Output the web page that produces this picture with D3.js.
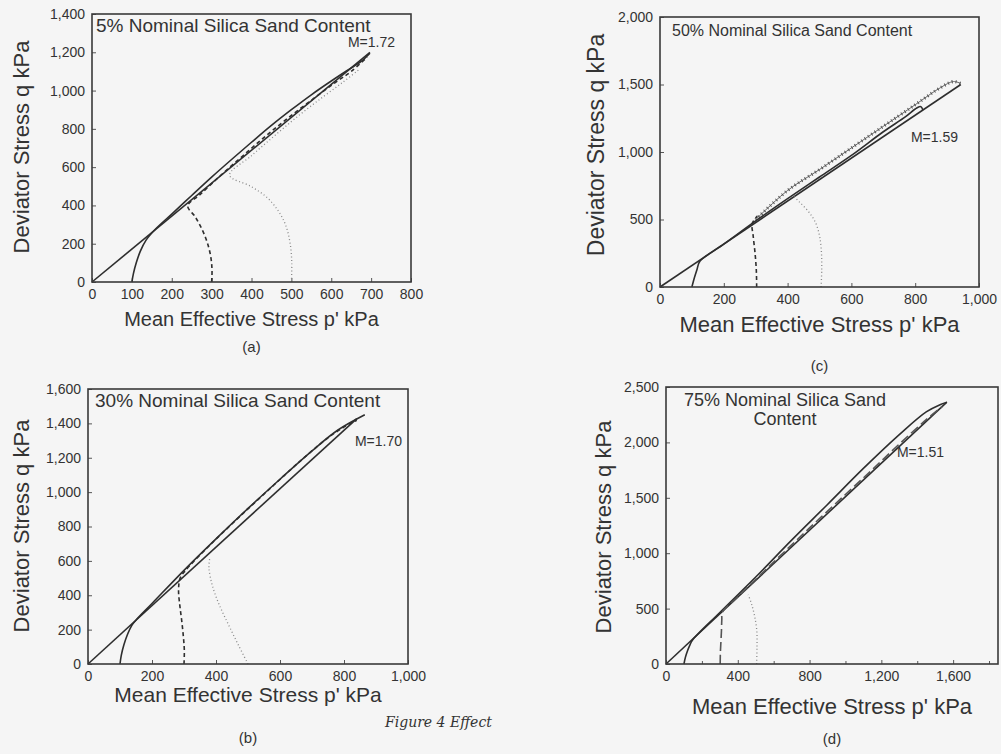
<!DOCTYPE html>
<html>
<head>
<meta charset="utf-8">
<script src="https://cdn.jsdelivr.net/npm/d3@7"></script>
<style>
  body { margin: 0; background: #f5f5f5; }
  text { font-family: "Liberation Sans", Arial, sans-serif; fill: #333; }
</style>
</head>
<body>
<script>
// ---- data (p' kPa, q kPa) ----

// (a) 5% silica sand
let aCsl = [[0, 0], [697, 1199]]
let aPath100 = [[100, 0], [104, 45], [111, 100], [121, 160], [136, 220], [157, 272], [200, 355], [250, 452], [300, 548], [350, 640], [400, 730], [450, 818], [500, 900], [550, 978], [600, 1050], [640, 1105], [675, 1152], [697, 1195]]
let aPath300 = [[300, 0], [301, 60], [298, 130], [290, 200], [277, 270], [259, 340], [240, 398], [270, 455], [320, 552], [380, 662], [440, 770], [500, 870], [560, 965], [610, 1042], [650, 1100], [690, 1175]]
let aPath500 = [[500, 0], [501, 100], [497, 200], [486, 295], [466, 375], [437, 445], [398, 500], [345, 558], [400, 660], [460, 768], [520, 872], [580, 968], [630, 1045], [670, 1110]]
let aTicksX = [0, 100, 200, 300, 400, 500, 600, 700, 800]
let aTicksY = [0, 200, 400, 600, 800, 1000, 1200, 1400]

// (b) 30% silica sand
let bCsl = [[0, 0], [840, 1428]]
let bPath100 = [[100, 0], [104, 50], [112, 110], [123, 170], [137, 225], [152, 260], [200, 352], [300, 545], [400, 728], [500, 905], [600, 1075], [700, 1240], [780, 1360], [865, 1450]]
let bPath300 = [[300, 0], [301, 80], [298, 160], [293, 250], [287, 340], [283, 430], [288, 500], [305, 545], [380, 690], [480, 868], [580, 1040], [680, 1208], [760, 1330], [820, 1400], [840, 1418]]
let bPath500 = [[500, 0], [470, 110], [440, 225], [410, 345], [388, 460], [378, 560], [380, 610]]
let bTicksX = [0, 200, 400, 600, 800, 1000]
let bTicksY = [0, 200, 400, 600, 800, 1000, 1200, 1400, 1600]

// (c) 50% silica sand
let cCsl = [[0, 0], [943, 1500]]
let cPath100 = [[100, 0], [108, 70], [116, 130], [125, 190], [200, 318], [300, 490], [400, 655], [500, 815], [600, 975], [700, 1150], [770, 1262], [805, 1326], [818, 1336], [824, 1312]]
let cPath300 = [[303, 0], [302, 120], [298, 250], [292, 380], [289, 470], [305, 525]]
let cPath500 = [[505, 0], [507, 130], [506, 260], [500, 380], [487, 480], [465, 560], [437, 630], [415, 680]]
let cUpper = [[300, 500], [400, 715], [500, 870], [600, 1030], [700, 1190], [800, 1350], [880, 1478], [920, 1522], [942, 1508]]
let cTicksX = [0, 200, 400, 600, 800, 1000]
let cTicksY = [0, 500, 1000, 1500, 2000]

// (d) 75% silica sand
let dCsl = [[0, 0], [1565, 2363]]
let dPath100 = [[100, 0], [108, 60], [120, 120], [133, 170], [147, 215], [300, 465], [500, 785], [700, 1118], [900, 1440], [1100, 1765], [1300, 2070], [1450, 2275], [1530, 2343], [1565, 2363]]
let dPath300 = [[302, 0], [303, 100], [306, 200], [309, 300], [311, 400], [315, 470], [400, 605], [600, 920], [800, 1228], [1000, 1530], [1150, 1755], [1300, 1985], [1450, 2205], [1540, 2325]]
let dPath500 = [[505, 0], [507, 150], [506, 300], [494, 430], [477, 540], [458, 625]]
let dTicksX = [0, 400, 800, 1200, 1600]
let dMinorX = [200, 600, 1000, 1400, 1800]
let dTicksY = [0, 500, 1000, 1500, 2000, 2500]

let 
  width = 1001,
  height = 754;

let svg = d3.select('body')
            .append('svg')
            .attr('width', width)
            .attr('height', height)

let fmt = d3.format(',')

// line looks
let styles = {
  solid:  {stroke: '#2e2e2e', width: 1.6, dash: null},
  dashed: {stroke: '#2e2e2e', width: 1.6, dash: '4,3'},
  dotted: {stroke: '#8a8a8a', width: 1.3, dash: '1,2.5'},
  longdash: {stroke: '#555', width: 1.6, dash: '9,4'}
}

let panels = [
  {left: 92, right: 411, top: 14, bottom: 282, xDomain: [0, 800], yDomain: [0, 1400],
   xTicks: aTicksX, yTicks: aTicksY, minorX: [],
   lines: [[aCsl, 'solid'], [aPath100, 'solid'], [aPath300, 'dashed'], [aPath500, 'dotted']],
   title: ['5% Nominal Silica Sand Content'], titleX: 96, titleY: 32, titleSize: 19, titleAnchor: 'start', titleGap: 0,
   m: 'M=1.72', mX: 395, mY: 47,
   xTitleY: 326, xTitleSize: 20, yTitleX: 29, yTitleSize: 22, yTitleCy: 147,
   cap: '(a)', capY: 352},
  {left: 88, right: 408, top: 389, bottom: 664, xDomain: [0, 1000], yDomain: [0, 1600],
   xTicks: bTicksX, yTicks: bTicksY, minorX: [],
   lines: [[bCsl, 'solid'], [bPath100, 'solid'], [bPath300, 'dashed'], [bPath500, 'dotted']],
   title: ['30% Nominal Silica Sand Content'], titleX: 95, titleY: 407, titleSize: 19, titleAnchor: 'start', titleGap: 0,
   m: 'M=1.70', mX: 402, mY: 446,
   xTitleY: 702, xTitleSize: 21, yTitleX: 29, yTitleSize: 22, yTitleCy: 526,
   cap: '(b)', capY: 743},
  {left: 660, right: 979, top: 17, bottom: 287, xDomain: [0, 1000], yDomain: [0, 2000],
   xTicks: cTicksX, yTicks: cTicksY, minorX: [],
   lines: [[cCsl, 'solid'], [cPath100, 'solid'], [cPath300, 'dashed'], [cPath500, 'dotted']],
   hatched: cUpper,
   title: ['50% Nominal Silica Sand Content'], titleX: 672, titleY: 36, titleSize: 16, titleAnchor: 'start', titleGap: 0,
   m: 'M=1.59', mX: 958, mY: 142,
   xTitleY: 332, xTitleSize: 22, yTitleX: 604, yTitleSize: 23, yTitleCy: 145,
   cap: '(c)', capY: 371},
  {left: 666, right: 998, top: 387, bottom: 664, xDomain: [0, 1850], yDomain: [0, 2500],
   xTicks: dTicksX, yTicks: dTicksY, minorX: dMinorX,
   lines: [[dCsl, 'solid'], [dPath100, 'solid'], [dPath300, 'longdash'], [dPath500, 'dotted']],
   title: ['75% Nominal Silica Sand', 'Content'], titleX: 785, titleY: 406, titleSize: 18, titleAnchor: 'middle', titleGap: 19,
   m: 'M=1.51', mX: 944, mY: 457,
   xTitleY: 714, xTitleSize: 22, yTitleX: 611, yTitleSize: 22, yTitleCy: 527,
   cap: '(d)', capY: 744}
]

panels.forEach(p => {
  let g = svg.append('g')

  let xScale = d3.scaleLinear()
              .domain(p.xDomain)
              .range([p.left, p.right])
  let yScale = d3.scaleLinear()
              .domain(p.yDomain)
              .range([p.bottom, p.top])

  // axes with small inward ticks
  let xAxis = g.append('g')
              .attr('transform', `translate(0, ${p.bottom})`)
              .call(d3.axisBottom(xScale).tickValues(p.xTicks).tickFormat(fmt)
                    .tickSizeInner(-4).tickSizeOuter(0).tickPadding(7))
  let yAxis = g.append('g')
              .attr('transform', `translate(${p.left}, 0)`)
              .call(d3.axisLeft(yScale).tickValues(p.yTicks).tickFormat(fmt)
                    .tickSizeInner(-4).tickSizeOuter(0).tickPadding(7))
  if (p.minorX.length) {
    g.append('g')
      .attr('transform', `translate(0, ${p.bottom})`)
      .call(d3.axisBottom(xScale).tickValues(p.minorX).tickFormat('').tickSizeInner(-3).tickSizeOuter(0))
  }
  g.selectAll('.domain').remove()
  g.selectAll('.tick line').attr('stroke', '#555')
  g.selectAll('.tick text')
    .style('font-size', '14px')
    .style('font-family', '"Liberation Sans", Arial, sans-serif')
    .attr('fill', '#3a3a3a')

  // stress paths
  let line = d3.line()
              .x(d => xScale(d[0]))
              .y(d => yScale(d[1]))
              .curve(d3.curveCatmullRom.alpha(0.5))

  if (p.hatched) {
    g.append('path').attr('d', line(p.hatched)).attr('fill', 'none')
      .attr('stroke', '#666').attr('stroke-width', 1)
    g.append('path').attr('d', line(p.hatched)).attr('fill', 'none')
      .attr('stroke', '#555').attr('stroke-width', 3.2).attr('stroke-dasharray', '1,3')
  }

  p.lines.forEach(([pts, kind]) => {
    let s = styles[kind]
    g.append('path')
      .attr('d', line(pts))
      .attr('fill', 'none')
      .attr('stroke', s.stroke)
      .attr('stroke-width', s.width)
      .attr('stroke-dasharray', s.dash)
      .attr('stroke-linejoin', 'round')
  })

  // frame
  g.append('rect')
    .attr('x', p.left).attr('y', p.top)
    .attr('width', p.right - p.left).attr('height', p.bottom - p.top)
    .attr('fill', 'none').attr('stroke', '#3a3a3a').attr('stroke-width', 1.6)

  // texts
  p.title.forEach((t, i) => {
    g.append('text')
      .attr('x', p.titleX)
      .attr('y', p.titleY + i * p.titleGap)
      .text(t)
      .style('font-size', p.titleSize + 'px')
      .style('text-anchor', p.titleAnchor)
  })
  g.append('text')
    .attr('x', p.mX).attr('y', p.mY)
    .text(p.m)
    .style('font-size', '14px')
    .style('text-anchor', 'end')

  let cx = (p.left + p.right) / 2
  g.append('text')
    .attr('x', cx).attr('y', p.xTitleY)
    .text("Mean Effective Stress p' kPa")
    .style('font-size', p.xTitleSize + 'px')
    .style('text-anchor', 'middle')
  g.append('text')
    .attr('x', -p.yTitleCy).attr('y', p.yTitleX)
    .attr('transform', 'rotate(-90)')
    .text('Deviator Stress q kPa')
    .style('font-size', p.yTitleSize + 'px')
    .style('text-anchor', 'middle')
  g.append('text')
    .attr('x', cx).attr('y', p.capY)
    .text(p.cap)
    .style('font-size', '15px')
    .style('text-anchor', 'middle')
})

// faded caption showing through at the bottom
svg.append('text')
  .attr('x', 385).attr('y', 727)
  .text('Figure 4 Effect')
  .style('font-family', '"DejaVu Serif", serif')
  .style('font-style', 'italic')
  .style('font-size', '14px')
  .attr('fill', '#c4c4c4')
</script>
</body>
</html>
